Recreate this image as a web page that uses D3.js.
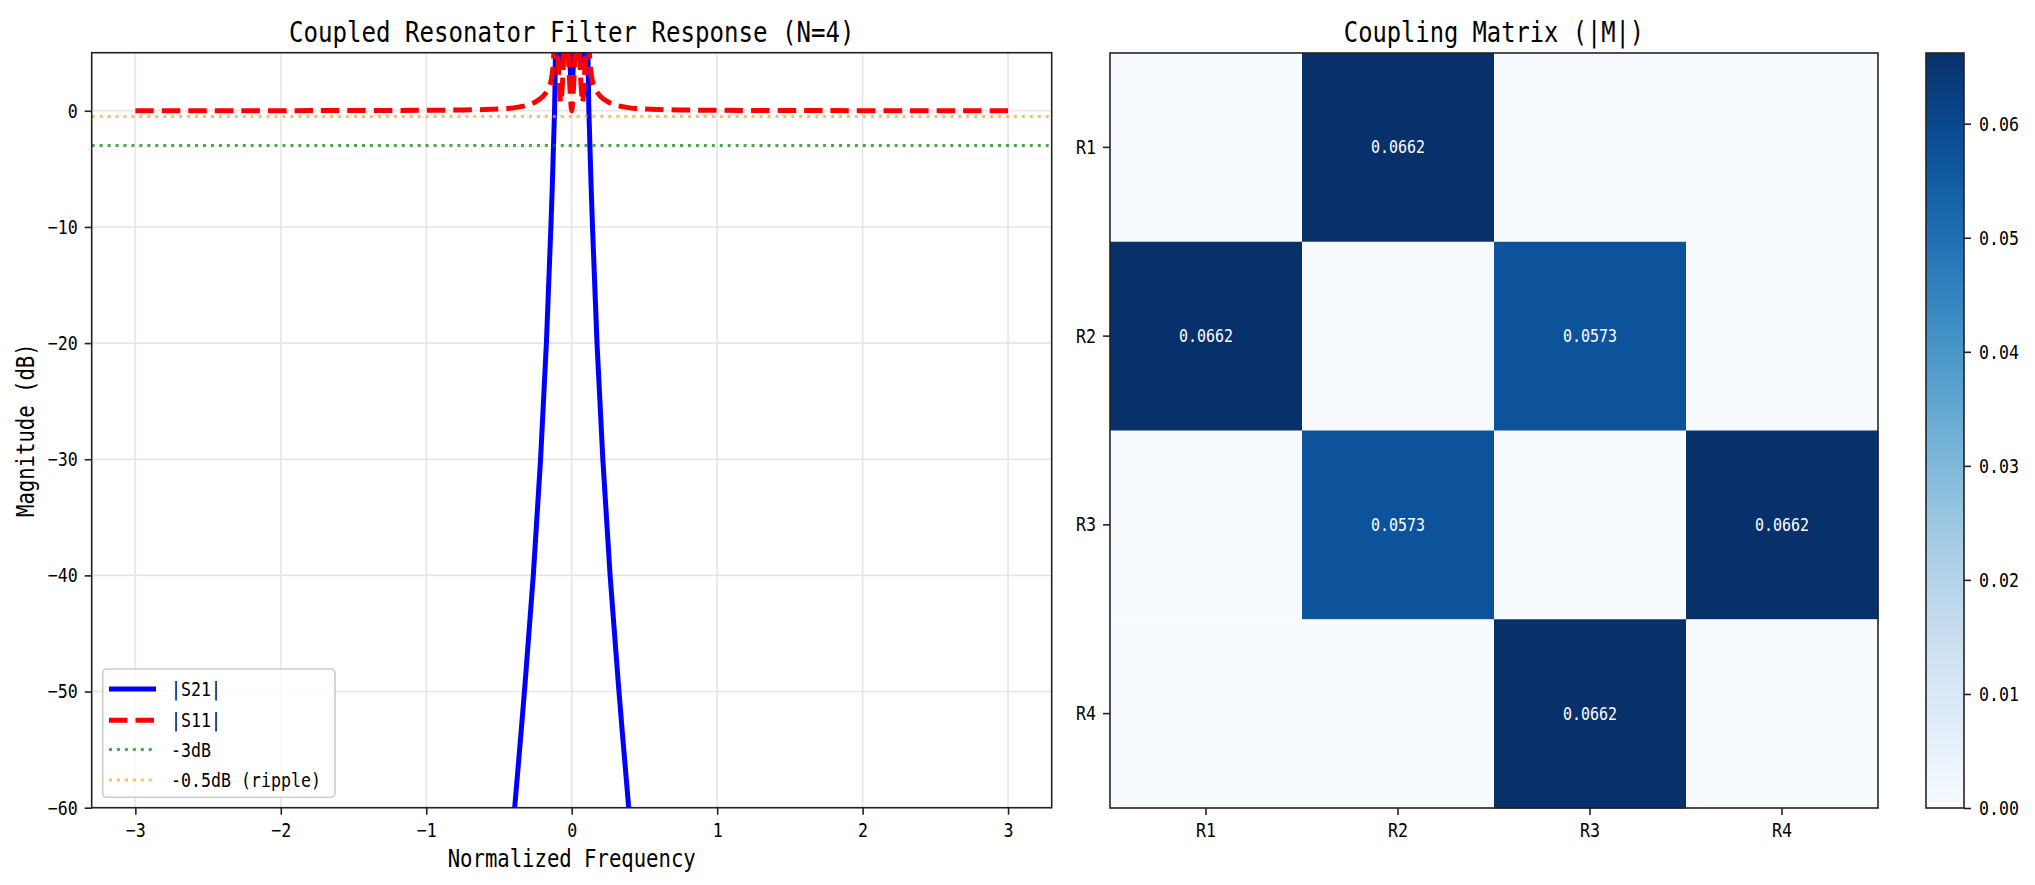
<!DOCTYPE html>
<html><head><meta charset="utf-8">
<script src="https://cdn.jsdelivr.net/npm/d3@7/dist/d3.min.js"></script>
<style>body{margin:0;background:#fff}svg{display:block}</style>
</head><body><svg id="c" width="2035" height="885"></svg>
<script>
// ---------------- data ----------------
const freqS21 = [-0.42,-0.392,-0.325,-0.264,-0.214,-0.174,-0.143,-0.118,-0.11,-0.1,-0.085,-0.07,-0.055,-0.04,-0.025,-0.012,0,
                 0.012,0.025,0.04,0.055,0.07,0.085,0.1,0.11,0.118,0.143,0.174,0.214,0.264,0.325,0.392,0.42];
const s21dB   = [-64,-60,-50,-40,-30,-20,-10,0,6,9,7,4,7,9,7,4,2,
                 4,7,9,7,4,7,9,6,0,-10,-20,-30,-40,-50,-60,-64];
const freqS11 = [-3,-2,-1.5,-1,-0.8,-0.6,-0.5,-0.4,-0.3,-0.25,-0.2,-0.17,-0.15,-0.14,-0.13,-0.12,-0.11,-0.1,-0.09,-0.08,-0.075,-0.07,-0.06,-0.05,-0.04,-0.03,-0.02,-0.01,0,
                 0.01,0.02,0.03,0.04,0.05,0.06,0.07,0.075,0.08,0.09,0.1,0.11,0.12,0.13,0.14,0.15,0.17,0.2,0.25,0.3,0.4,0.5,0.6,0.8,1,1.5,2,3];
const s11dB   = [0.0,0.01,0.02,0.04,0.06,0.1,0.15,0.25,0.5,0.75,1.2,1.7,2.2,2.7,3.6,5.5,8,6.5,3.5,1.2,0.7,1.2,3.2,6.5,9,7,4,1.5,0.0,
                 1.5,4,7,9,6.5,3.2,1.2,0.7,1.2,3.5,6.5,8,5.5,3.6,2.7,2.2,1.7,1.2,0.75,0.5,0.25,0.15,0.1,0.06,0.04,0.02,0.01,0.0];
const refLevels = [-3, -0.5];
const refLabels = ["-3dB", "-0.5dB (ripple)"];
const seriesLabels = ["|S21|", "|S11|"];
const xTicks = [-3,-2,-1,0,1,2,3];
const yTicks = [-60,-50,-40,-30,-20,-10,0];
const resonators = ["R1","R2","R3","R4"];
const couplingM = [[0,0.0662,0,0],[0.0662,0,0.0573,0],[0,0.0573,0,0.0662],[0,0,0.0662,0]];
const cbTicks = [0,0.01,0.02,0.03,0.04,0.05,0.06];
const titles = ["Coupled Resonator Filter Response (N=4)", "Coupling Matrix (|M|)"];
const axisLabels = ["Normalized Frequency", "Magnitude (dB)"];

// ---------------- helpers ----------------
const FONT = "'DejaVu Sans Mono', monospace";
const svg = d3.select("#c");
function fit(sel, fs, cw){
  sel.attr("font-family", FONT).attr("font-size", fs).attr("fill", "#000")
     .each(function(){ const s = d3.select(this).text(); d3.select(this).attr("textLength", s.length*cw).attr("lengthAdjust","spacingAndGlyphs"); });
  return sel;
}
function txt(g, s, x, y, fs, cw, anchor){
  return fit(g.append("text").attr("x",x).attr("y",y).attr("text-anchor",anchor||"start").text(s), fs, cw);
}
function styleAxis(g, fs, cw){
  g.select(".domain").remove();
  g.selectAll(".tick line").attr("stroke","#222").attr("stroke-width",1.6);
  fit(g.selectAll(".tick text"), fs, cw);
}

// ---------------- left: response ----------------
const L = {l:91.7, r:1051.7, t:52.7, b:807.7};
const x = d3.scaleLinear().domain([-3.3,3.3]).range([L.l,L.r]);
const y = d3.scaleLinear().domain([-60,5]).range([L.b,L.t]);

svg.append("defs").append("clipPath").attr("id","clipL")
  .append("rect").attr("x",L.l).attr("y",L.t).attr("width",L.r-L.l).attr("height",L.b-L.t);

const grid = svg.append("g");
grid.selectAll(".gx").data(xTicks).join("line").attr("x1",d=>x(d)).attr("x2",d=>x(d)).attr("y1",L.t).attr("y2",L.b)
  .attr("stroke","#e6e6e6").attr("stroke-width",1.6);
grid.selectAll(".gy").data(yTicks).join("line").attr("y1",d=>y(d)).attr("y2",d=>y(d)).attr("x1",L.l).attr("x2",L.r)
  .attr("stroke","#e6e6e6").attr("stroke-width",1.6);

const plot = svg.append("g").attr("clip-path","url(#clipL)");
const line = d3.line().curve(d3.curveCatmullRom.alpha(0.5));
plot.append("path").attr("d", line(freqS21.map((f,i)=>[x(f), y(s21dB[i])])))
  .attr("fill","none").attr("stroke","#0000ff").attr("stroke-width",5).attr("stroke-linejoin","round");
plot.append("path").attr("d", line(freqS11.map((f,i)=>[x(f), y(s11dB[i])])))
  .attr("fill","none").attr("stroke","#ff0000").attr("stroke-width",5).attr("stroke-dasharray","18.5,8");
const refColors = ["#008000","#ffa500"];
plot.selectAll(".ref").data(refLevels).join("line").attr("x1",L.l).attr("x2",L.r).attr("y1",d=>y(d)).attr("y2",d=>y(d))
  .attr("stroke",(d,i)=>refColors[i]).attr("stroke-opacity",0.7).attr("stroke-width",3).attr("stroke-dasharray","3,4.95");

const gxL = svg.append("g").attr("transform",`translate(0,${L.b})`).call(d3.axisBottom(x).tickValues(xTicks).tickSize(7).tickPadding(8).tickFormat(d3.format("d")));
styleAxis(gxL, 20, 10);
const gyL = svg.append("g").attr("transform",`translate(${L.l},0)`).call(d3.axisLeft(y).tickValues(yTicks).tickSize(7).tickPadding(7).tickFormat(d3.format("d")));
styleAxis(gyL, 20, 10);
svg.append("rect").attr("x",L.l).attr("y",L.t).attr("width",L.r-L.l).attr("height",L.b-L.t)
  .attr("fill","none").attr("stroke","#222").attr("stroke-width",1.6);

txt(svg, titles[0], (L.l+L.r)/2, 42, 28, 14.5, "middle");
txt(svg, axisLabels[0], (L.l+L.r)/2, 867, 24, 12.4, "middle");
txt(svg.append("g").attr("transform",`translate(34,${(L.t+L.b)/2}) rotate(-90)`), axisLabels[1], 0, 0, 24, 12.4, "middle");

// legend
const lg = svg.append("g");
lg.append("rect").attr("x",102.7).attr("y",669).attr("width",232.3).attr("height",128.3).attr("rx",4)
  .attr("fill","#fff").attr("fill-opacity",0.8).attr("stroke","#cccccc").attr("stroke-width",1.6);
const legItems = [
  {label:seriesLabels[0], color:"#0000ff", w:5, dash:null, op:1},
  {label:seriesLabels[1], color:"#ff0000", w:5, dash:"18.5,8", op:1},
  {label:refLabels[0], color:"#008000", w:3, dash:"3,4.95", op:0.7},
  {label:refLabels[1], color:"#ffa500", w:3, dash:"3,4.95", op:0.7}
];
const rowY = [689, 720.3, 749.5, 780];
legItems.forEach((d,i)=>{
  lg.append("line").attr("x1",109).attr("x2",156).attr("y1",rowY[i]).attr("y2",rowY[i])
    .attr("stroke",d.color).attr("stroke-width",d.w).attr("stroke-opacity",d.op).attr("stroke-dasharray",d.dash);
  txt(lg, d.label, 171, rowY[i]+7, 20, 10, "start");
});

// ---------------- right: coupling matrix ----------------
const H = {l:1110, r:1878, t:53, b:808};
const xb = d3.scaleBand().domain(resonators).range([H.l,H.r]);
const yb = d3.scaleBand().domain(resonators).range([H.t,H.b]);
const vmax = d3.max(couplingM.flat());
const color = d3.scaleSequential(d3.interpolateBlues).domain([0, vmax]);
const cells = [];
couplingM.forEach((row,i)=>row.forEach((v,j)=>cells.push({i,j,v})));
const hg = svg.append("g");
hg.selectAll("rect").data(cells).join("rect")
  .attr("x",d=>xb(resonators[d.j])).attr("y",d=>yb(resonators[d.i]))
  .attr("width",xb.bandwidth()+0.5).attr("height",yb.bandwidth()+0.5).attr("fill",d=>color(d.v));
cells.filter(d=>d.v>0).forEach(d=>{
  txt(hg, d3.format(".4f")(d.v), xb(resonators[d.j])+xb.bandwidth()/2, yb(resonators[d.i])+yb.bandwidth()/2+6, 18, 9, "middle").attr("fill","#fff");
});
const gxH = svg.append("g").attr("transform",`translate(0,${H.b})`).call(d3.axisBottom(xb).tickSize(7).tickPadding(8));
styleAxis(gxH, 20, 10);
const gyH = svg.append("g").attr("transform",`translate(${H.l},0)`).call(d3.axisLeft(yb).tickSize(7).tickPadding(7));
styleAxis(gyH, 20, 10);
svg.append("rect").attr("x",H.l).attr("y",H.t).attr("width",H.r-H.l).attr("height",H.b-H.t)
  .attr("fill","none").attr("stroke","#222").attr("stroke-width",1.6);
txt(svg, titles[1], (H.l+H.r)/2, 42, 28, 14.3, "middle");

// colorbar
const C = {l:1926, r:1964, t:53, b:808};
const cy = d3.scaleLinear().domain([0, vmax]).range([C.b, C.t]);
const grad = svg.select("defs").append("linearGradient").attr("id","cbg").attr("x1",0).attr("y1",1).attr("x2",0).attr("y2",0);
d3.range(0,1.0001,0.05).forEach(t=>grad.append("stop").attr("offset",t).attr("stop-color",d3.interpolateBlues(t)));
svg.append("rect").attr("x",C.l).attr("y",C.t).attr("width",C.r-C.l).attr("height",C.b-C.t).attr("fill","url(#cbg)");
const gc = svg.append("g").attr("transform",`translate(${C.r},0)`).call(d3.axisRight(cy).tickValues(cbTicks).tickSize(7).tickPadding(8).tickFormat(d3.format(".2f")));
styleAxis(gc, 20, 10);
svg.append("rect").attr("x",C.l).attr("y",C.t).attr("width",C.r-C.l).attr("height",C.b-C.t)
  .attr("fill","none").attr("stroke","#222").attr("stroke-width",1.6);
</script></body></html>
